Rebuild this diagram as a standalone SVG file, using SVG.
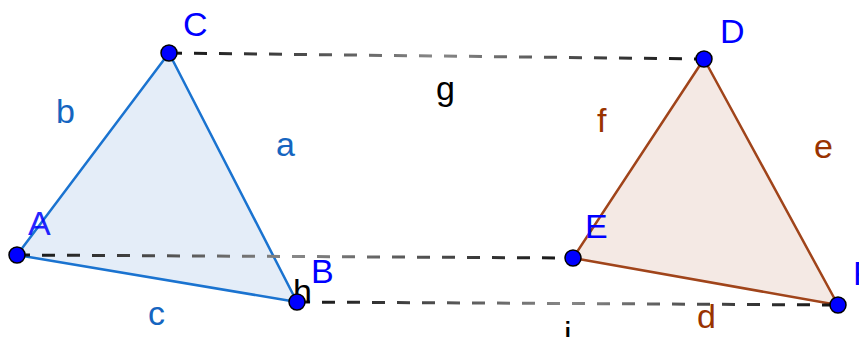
<svg xmlns="http://www.w3.org/2000/svg" width="859" height="337" viewBox="0 0 859 337">
<style>
text{font-family:"Liberation Sans",Arial,sans-serif;font-size:34px}
.pl{fill:#0000ff}
.bl{fill:#1565c0}
.br{fill:#993300}
.bk{fill:#000}
.dash{fill:none;stroke:url(#dg);stroke-width:3;stroke-dasharray:13 12}
.pt{fill:#0000ff;stroke:#000;stroke-width:1.5}
</style>
<defs>
<linearGradient id="dg" x1="0" y1="0" x2="1" y2="0">
<stop offset="0" stop-color="#111"/>
<stop offset="0.5" stop-color="#888"/>
<stop offset="1" stop-color="#111"/>
</linearGradient>
</defs>
<g id="triangle-ABC">
<polygon points="17,255 297,302 169,53" fill="#e4edf8" stroke="#1a73d0" stroke-width="2.5" stroke-linejoin="round"/>
</g>
<g id="triangle-DEF">
<polygon points="573,258 838,305 704,59" fill="#f4e9e4" stroke="#a0441a" stroke-width="2.5" stroke-linejoin="round"/>
</g>
<g id="connectors">
<line id="g" class="dash" x1="169" y1="53" x2="704" y2="59"/>
<line id="h" class="dash" x1="17" y1="255" x2="573" y2="258"/>
<line id="i" class="dash" x1="297" y1="302" x2="838" y2="305"/>
</g>
<g id="labels">
<text class="bl" x="56" y="123">b</text>
<text class="bl" x="276" y="156">a</text>
<text class="bl" x="148" y="325">c</text>
<text class="br" x="597" y="132">f</text>
<text class="br" x="814" y="158">e</text>
<text class="br" x="697" y="328">d</text>
<text class="bk" x="436" y="100">g</text>
<text class="bk" x="293" y="303">h</text>
<text class="bk" x="564" y="345">i</text>
</g>
<g id="point-A"><circle class="pt" cx="17" cy="255" r="8"/><text class="pl" x="28" y="235" opacity="0.85">A</text></g>
<g id="point-B"><circle class="pt" cx="297" cy="302" r="8"/><text class="pl" x="311" y="283">B</text></g>
<g id="point-C"><circle class="pt" cx="169" cy="53" r="8"/><text class="pl" x="183" y="36">C</text></g>
<g id="point-D"><circle class="pt" cx="704" cy="59" r="8"/><text class="pl" x="720" y="43">D</text></g>
<g id="point-E"><circle class="pt" cx="573" cy="258" r="8"/><text class="pl" x="585" y="238">E</text></g>
<g id="point-F"><circle class="pt" cx="838" cy="305" r="8"/><text class="pl" x="853" y="285">F</text></g>
</svg>
